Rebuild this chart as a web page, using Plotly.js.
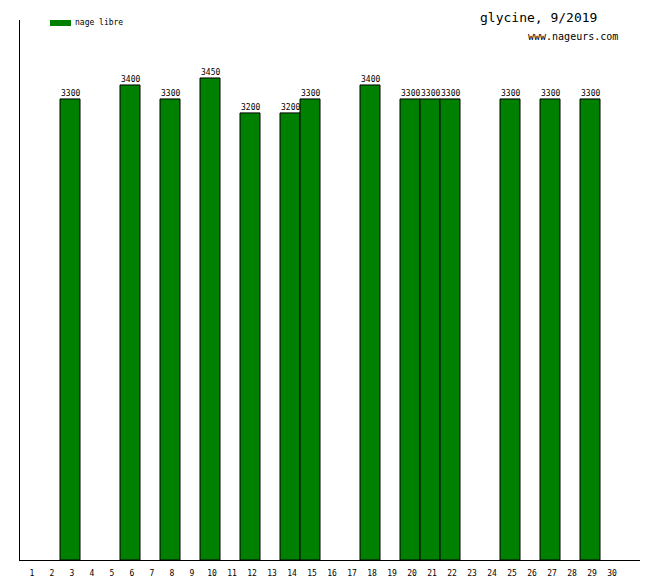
<!DOCTYPE html>
<html>
<head>
<meta charset="utf-8">
<script src="https://cdn.plot.ly/plotly-3.0.1.min.js"></script>
<style>html,body{margin:0;padding:0;background:#fff;}#chart{width:660px;height:580px;}</style>
</head>
<body>
<div id="chart"></div>
<script>
// Data
var days = [1,2,3,4,5,6,7,8,9,10,11,12,13,14,15,16,17,18,19,20,21,22,23,24,25,26,27,28,29,30];
var distances = [null,null,3300,null,null,3400,null,3300,null,3450,null,3200,null,3200,3300,null,null,3400,null,3300,3300,3300,null,null,3300,null,3300,null,3300,null];
var tickLabels = days.map(String);
var seriesName = 'nage libre';
var titleText = 'glycine, 9/2019';
var siteText = 'www.nageurs.com';

var font = 'DejaVu Sans Mono, Liberation Mono, monospace';

var trace = {
  type: 'bar',
  x: days,
  y: distances,
  name: seriesName,
  marker: {color: '#008000', line: {color: '#000000', width: 1}},
  hoverinfo: 'x+y'
};

var valueLabels = [];
days.forEach(function(d, i){
  if (distances[i] !== null) {
    valueLabels.push({text: String(distances[i]), x: d, y: distances[i], xref: 'x', yref: 'y',
      xanchor: 'center', yanchor: 'bottom', showarrow: false, yshift: -1,
      font: {family: font, size: 8, color: '#000000'}});
  }
});

var layout = {
  width: 660, height: 580,
  margin: {l: 20, r: 20, t: 20, b: 20, pad: 0},
  paper_bgcolor: '#ffffff', plot_bgcolor: '#ffffff',
  showlegend: false,
  bargap: 0,
  font: {family: font, size: 8, color: '#000000'},
  xaxis: {
    range: [0.5, 31.5], tickvals: days, ticktext: tickLabels,
    showgrid: false, zeroline: false, showline: true, linecolor: '#000000', linewidth: 1,
    ticks: '', ticklabelstandoff: 5, ticklabelshift: 2,
    tickfont: {family: font, size: 8, color: '#000000'}, fixedrange: true
  },
  yaxis: {
    range: [0, 3865], showgrid: false, zeroline: false, showline: true,
    linecolor: '#000000', linewidth: 1, showticklabels: false, ticks: '', fixedrange: true
  },
  shapes: [{
    type: 'rect', xref: 'paper', yref: 'paper',
    x0: 30/620, x1: 51/620, y0: 1 + 0/540, y1: 1 - 6/540,
    fillcolor: '#008000', line: {width: 0}
  }],
  annotations: valueLabels.concat([
    {text: seriesName, xref: 'paper', yref: 'paper', x: 53/620, y: 1 - 2.5/540,
     xanchor: 'left', yanchor: 'middle', showarrow: false,
     font: {family: font, size: 8, color: '#000000'}},
    {text: titleText, xref: 'paper', yref: 'paper', x: 579/620, y: 1 + 2/540,
     xanchor: 'right', yanchor: 'middle', showarrow: false,
     font: {family: font, size: 13, color: '#000000'}},
    {text: siteText, xref: 'paper', yref: 'paper', x: 600/620, y: 1 - 17/540,
     xanchor: 'right', yanchor: 'middle', showarrow: false,
     font: {family: font, size: 10, color: '#000000'}}
  ])
};

Plotly.newPlot('chart', [trace], layout, {displayModeBar: false, staticPlot: true});
</script>
</body>
</html>
